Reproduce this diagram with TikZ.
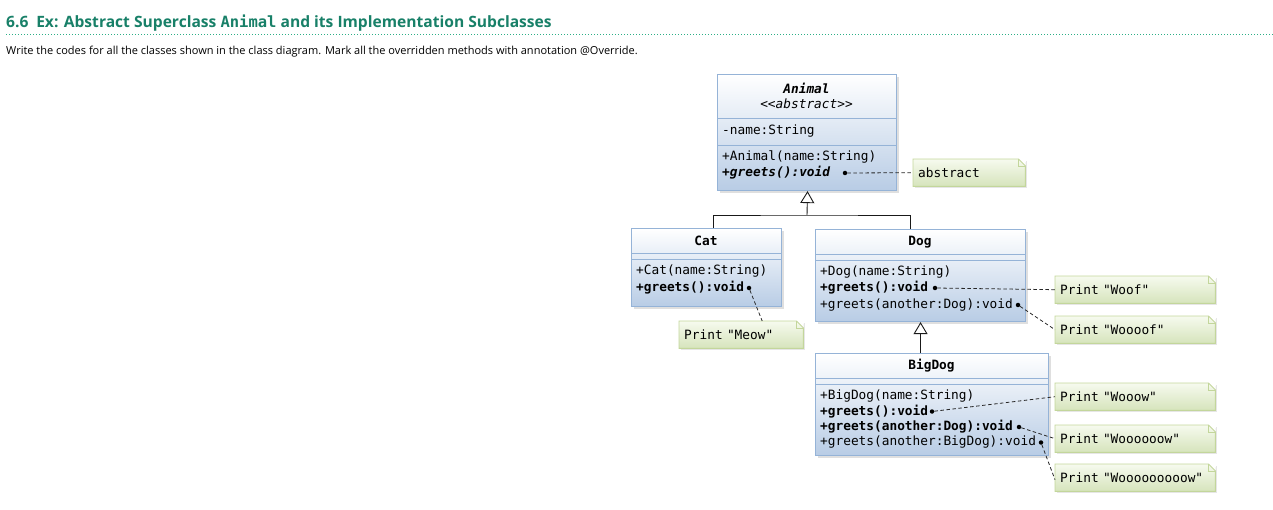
\documentclass[tikz,border=0pt]{standalone}
\usepackage{fontspec}
\setmainfont{Open Sans}
\setmonofont{DejaVu Sans Mono}
\usetikzlibrary{arrows.meta,shadows}

\definecolor{headgreen}{RGB}{24,128,104}
\definecolor{rulegreen}{RGB}{45,175,135}
\definecolor{boxblue}{RGB}{184,204,229}
\definecolor{boxedge}{RGB}{149,179,215}
\definecolor{notetop}{RGB}{246,250,238}
\definecolor{notegreen}{RGB}{214,228,188}
\definecolor{noteedge}{RGB}{195,214,155}

\newcommand{\umlfont}{\ttfamily\fontsize{12.8}{14}\selectfont}

\tikzset{
  classbox/.style={anchor=north west, draw=boxedge, line width=1.1pt, top color=white, bottom color=boxblue,
    drop shadow={opacity=0.25, shadow xshift=2pt, shadow yshift=-2pt}},
  classline/.style={boxedge, line width=0.8pt},
  classname/.style={font=\umlfont\bfseries, inner sep=0pt},
  member/.style={font=\umlfont, anchor=west, inner sep=0pt},
  notebox/.style={anchor=north west, top color=notetop, bottom color=notegreen, minimum height=27pt,
    inner xsep=5pt, align=left, font=\umlfont,
    drop shadow={opacity=0.2, shadow xshift=2pt, shadow yshift=-2pt}},
  noteline/.style={line width=0.8pt, black!85, dash pattern=on 3.5pt off 2.5pt},
  dotmark/.style={circle, fill=black, inner sep=0pt, minimum size=4.5pt},
  genline/.style={line width=0.9pt, black!90},
  gentip/.style={-{Triangle[open, length=12pt, width=14pt, fill=white]}}
}

\begin{document}
\begin{tikzpicture}[x=1pt, y=-1pt]
  \useasboundingbox (0,0) rectangle (1273,510);

  % heading
  \node[anchor=west, inner sep=0pt, text=headgreen, font=\bfseries\fontsize{15.6}{18}\selectfont] (title) at (6,23)
    {6.6\enspace Ex: Abstract Superclass {\ttfamily\fontsize{15.5}{16}\selectfont Animal} and its Implementation Subclasses};
  \draw[rulegreen, dotted, line width=1pt] (6,35) -- (1273,35); % rule
  \node[anchor=west, inner sep=0pt, font=\fontsize{11}{13}\selectfont] (task) at (6,52)
    {Write the codes for all the classes shown in the class diagram. Mark all the overridden methods with annotation @Override.};

  % Animal
  \node[classbox, minimum width=179pt, minimum height=116pt] (animal) at (717,74) {};
  \draw[classline] (717,118) -- (896,118);
  \draw[classline] (717,145) -- (896,145);
  \node[classname, font=\umlfont\bfseries\itshape] (animalname) at (806.5,88) {Animal};
  \node[classname, font=\umlfont\itshape] (animalstereo) at (806.5,104) {<<abstract>>};
  \node[member] (animalattr) at (722,131) {-name:String};
  \node[member] (animalctor) at (722,157) {+Animal(name:String)};
  \node[member, font=\umlfont\bfseries\itshape] (animalgreets) at (722,173) {+greets():void};
  \node[dotmark] (animaldot) at (845,173) {};

  % Cat
  \node[classbox, minimum width=150pt, minimum height=78pt] (cat) at (631,228) {};
  \draw[classline] (631,253) -- (781,253);
  \draw[classline] (631,259) -- (781,259);
  \node[classname] (catname) at (706,241) {Cat};
  \node[member] (catctor) at (636,271) {+Cat(name:String)};
  \node[member, font=\umlfont\bfseries] (catgreets) at (636,288) {+greets():void};
  \node[dotmark] (catdot) at (749,288) {};

  % Dog
  \node[classbox, minimum width=210pt, minimum height=92pt] (dog) at (815,229) {};
  \draw[classline] (815,254) -- (1025,254);
  \draw[classline] (815,260) -- (1025,260);
  \node[classname] (dogname) at (920,242) {Dog};
  \node[member] (dogctor) at (820,272) {+Dog(name:String)};
  \node[member, font=\umlfont\bfseries] (doggreets) at (820,288) {+greets():void};
  \node[member] (doggreetsdog) at (820,305) {+greets(another:Dog):void};
  \node[dotmark] (dogdot) at (935,288) {};
  \node[dotmark] (dogdogdot) at (1018,305) {};

  % BigDog
  \node[classbox, minimum width=233pt, minimum height=102pt] (bigdog) at (815,353) {};
  \draw[classline] (815,378) -- (1048,378);
  \draw[classline] (815,384) -- (1048,384);
  \node[classname] (bigdogname) at (931.5,366) {BigDog};
  \node[member] (bigdogctor) at (820,396) {+BigDog(name:String)};
  \node[member, font=\umlfont\bfseries] (bigdoggreets) at (820,411.5) {+greets():void};
  \node[member, font=\umlfont\bfseries] (bigdoggreetsdog) at (820,427) {+greets(another:Dog):void};
  \node[member] (bigdoggreetsbig) at (820,442.5) {+greets(another:BigDog):void};
  \node[dotmark] (bigdogdot) at (932,411.5) {};
  \node[dotmark] (bigdogdogdot) at (1019,427) {};
  \node[dotmark] (bigdogbigdot) at (1041,442.5) {};

  % notes
  \node[notebox, minimum width=112pt, text width=102pt] (abstract) at (913,159) {abstract};
  \node[notebox, minimum width=124pt, text width=114pt] (meow) at (679,321) {Print "Meow"};
  \node[notebox, minimum width=160pt, text width=150pt] (woof) at (1055,276) {Print "Woof"};
  \node[notebox, minimum width=160pt, text width=150pt] (woooof) at (1055,316) {Print "Woooof"};
  \node[notebox, minimum width=160pt, text width=150pt] (wooow) at (1055,383) {Print "Wooow"};
  \node[notebox, minimum width=160pt, text width=150pt] (woooooow) at (1055,425) {Print "Woooooow"};
  \node[notebox, minimum width=160pt, text width=150pt] (wooooooooow) at (1055,464) {Print "Wooooooooow"};
  \foreach \n in {abstract,meow,woof,woooof,wooow,woooooow,wooooooooow} {
    \fill[white] ([xshift=-7pt]\n.north east) -- ([xshift=0.6pt,yshift=0.6pt]\n.north east) -- ([yshift=-7pt]\n.north east) -- cycle;
    \draw[noteedge, line width=0.9pt] (\n.north west) -- ([xshift=-7pt]\n.north east) -- ([yshift=-7pt]\n.north east)
      -- (\n.south east) -- (\n.south west) -- cycle;
    \draw[noteedge, line width=0.6pt] ([xshift=-7pt]\n.north east) -- ([xshift=-7pt,yshift=-7pt]\n.north east)
      -- ([yshift=-7pt]\n.north east);
  }

  % note links
  \draw[noteline] (animaldot) -- (abstract.west);
  \draw[noteline] (catdot) -- ([xshift=21pt]meow.north);
  \draw[noteline] (dogdot) -- (woof.west);
  \draw[noteline] (dogdogdot) -- (woooof.west);
  \draw[noteline] (bigdogdot) -- (wooow.west);
  \draw[noteline] (bigdogdogdot) -- (woooooow.west);
  \draw[noteline] (bigdogbigdot) -- ([yshift=-2pt]wooooooooow.west);

  % generalizations
  \coordinate (animaljoin) at (807,215);
  \draw[genline] ([xshift=7pt]cat.north) |- (animaljoin) -| ([xshift=-10pt]dog.north);
  \draw[genline, gentip] (animaljoin) -- ([xshift=0.5pt]animal.south);
  \draw[genline, gentip] (bigdog.north -| dog.south) -- (dog.south);
\end{tikzpicture}
\end{document}
